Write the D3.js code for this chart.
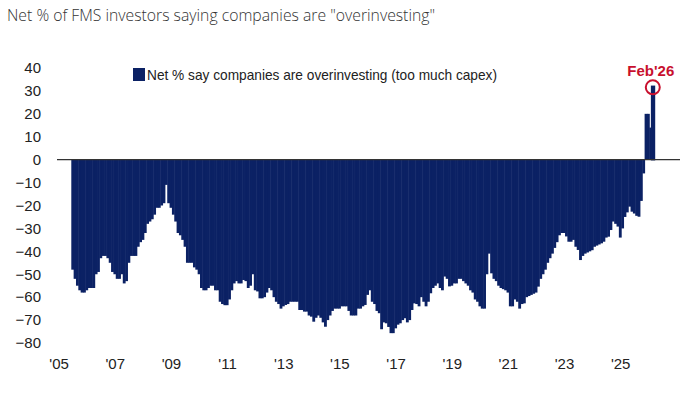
<!DOCTYPE html>
<html><head><meta charset="utf-8">
<script src="https://cdn.jsdelivr.net/npm/d3@7"></script>
<style>body{margin:0;background:#fff}svg{display:block}</style>
</head><body><svg id="c" width="700" height="396"></svg>
<script>
// months since Jan 2005 of the first value (Jun 2005); last value is Feb 2026
const firstMonth = 5;
const netOverinvesting = [
 -48,-52,-55,-57,-58,-58,-57,-56,-56,-56,
 -50,-49,-43,-42,-42,-43,-45,-49,-50,-52,
 -52,-50,-54,-53,-45,-42,-42,-42,-38,-36,
 -35,-32,-28,-27,-26,-24,-21,-21,-20,-19,
 -11,-19,-21,-24,-27,-32,-33,-35,-38,-45,
 -45,-45,-47,-48,-50,-56,-57,-57,-56,-55,
 -55,-57,-57,-62,-63,-63.5,-63.5,-61,-57,-54,
 -53,-54,-54,-52.5,-53,-56,-55,-50,-57,-57.5,
 -60.5,-60.5,-60,-58,-56,-57,-60,-62,-63,-65,
 -64,-63.4,-63,-62,-62,-62,-62,-65.6,-65.6,-66.3,
 -66.3,-68,-68.5,-70.7,-69,-68,-69,-71,-72.9,-70,
 -68,-66,-65,-65,-65,-64,-64,-64,-66,-68,
 -68,-68,-65,-65,-64,-63.4,-59,-57,-62,-63,
 -66,-67,-74,-71,-71.4,-73,-75.7,-75.7,-73.6,-72,
 -71.4,-70,-69.2,-71,-70,-65.6,-62.7,-63,-64,-60,
 -62,-64,-62,-58.3,-56,-55,-54,-56,-57,-51,
 -52,-55.3,-55,-54,-54,-52,-52,-53,-54,-55,
 -57,-58,-61,-62,-64,-65,-65,-50,-41,-49.6,
 -52,-53,-55,-56,-56.5,-57,-58,-64,-64,-61,
 -62,-65,-63,-62.7,-60,-59.5,-59,-58.5,-58,-55.4,
 -52,-50,-48,-45,-43,-41,-38.5,-36,-33,-32,
 -32,-33.5,-35.8,-35.8,-35,-38,-39.4,-43.8,-42,-41,
 -40.5,-40,-39.5,-38,-37.5,-37,-36.5,-35.8,-34,-33.6,
 -30.7,-27,-28,-29.2,-34,-30,-25,-23,-20.5,-22.7,
 -23.5,-24.5,-24.9,-18,-6,20,20,14,32
];
const yTickValues = [40,30,20,10,0,-10,-20,-30,-40,-50,-60,-70,-80];
const xTickMonths = [0,24,48,72,96,120,144,168,192,216,240];
const xTickLabels = ["'05","'07","'09","'11","'13","'15","'17","'19","'21","'23","'25"];
const titleText = 'Net % of FMS investors saying companies are "overinvesting"';
const legendText = "Net % say companies are overinvesting (too much capex)";
const annotationText = "Feb'26";

const navy = "#0b2164";
const red = "#c8102e";
const svg = d3.select("#c");
const x = d3.scaleLinear().domain([0, 240]).range([59.6, 621.2]);
const y = d3.scaleLinear().domain([-80, 40]).range([343, 68]);
const bw = x(1) - x(0);
const lastIdx = netOverinvesting.length - 1;

// title
svg.append("text").attr("x", 7).attr("y", 21)
  .attr("font-family", "'Open Sans', 'Noto Sans', sans-serif")
  .attr("font-size", 17).attr("font-weight", 300).attr("fill", "#333")
  .attr("textLength", 428).attr("lengthAdjust", "spacingAndGlyphs")
  .text(titleText);

// bars
svg.append("g").selectAll("rect").data(netOverinvesting).join("rect")
  .attr("x", (d, i) => x(firstMonth + i))
  .attr("width", bw + 0.5)
  .attr("y", d => y(Math.max(0, d)))
  .attr("height", d => Math.abs(y(d) - y(0)))
  .attr("fill", navy)
  .attr("stroke", (d, i) => i === lastIdx ? navy : "none")
  .attr("stroke-width", 1.5);

// zero line
svg.append("line").attr("x1", 57).attr("x2", 680)
  .attr("y1", y(0)).attr("y2", y(0))
  .attr("stroke", "#333").attr("stroke-width", 1.2);

// y axis
const yAxis = svg.append("g").attr("transform", "translate(41,0)")
  .call(d3.axisLeft(y).tickValues(yTickValues).tickSize(0).tickPadding(0));
yAxis.select(".domain").remove();
yAxis.selectAll("text").attr("font-family", "'Liberation Sans Narrow', 'Arial Narrow', 'Liberation Sans', sans-serif")
  .attr("font-size", 15).attr("fill", "#222");

// x axis
const xAxis = svg.append("g").attr("transform", "translate(-1,358)")
  .call(d3.axisBottom(x).tickValues(xTickMonths).tickSize(0).tickPadding(0)
    .tickFormat((d, i) => xTickLabels[i]));
xAxis.select(".domain").remove();
xAxis.selectAll("text").attr("font-family", "'Liberation Sans Narrow', 'Arial Narrow', 'Liberation Sans', sans-serif")
  .attr("font-size", 15).attr("fill", "#222");

// legend
svg.append("rect").attr("x", 133).attr("y", 68).attr("width", 12).attr("height", 13).attr("fill", navy);
svg.append("text").attr("x", 147).attr("y", 80)
  .attr("font-family", "'Liberation Sans Narrow', 'Arial Narrow', 'Liberation Sans', sans-serif")
  .attr("font-size", 15).attr("fill", "#222")
  .attr("textLength", 350).attr("lengthAdjust", "spacingAndGlyphs")
  .text(legendText);

// annotation
const ax = x(firstMonth + lastIdx) + bw / 2;
svg.append("text").attr("x", ax - 2).attr("y", 76).attr("text-anchor", "middle")
  .attr("font-family", "'Liberation Sans Narrow', 'Arial Narrow', 'Liberation Sans', sans-serif")
  .attr("font-size", 15).attr("font-weight", "bold").attr("fill", red)
  .text(annotationText);
svg.append("circle").attr("cx", ax).attr("cy", y(netOverinvesting[lastIdx]) + 1)
  .attr("r", 7).attr("fill", "none").attr("stroke", red).attr("stroke-width", 2);
</script>
</body></html>
